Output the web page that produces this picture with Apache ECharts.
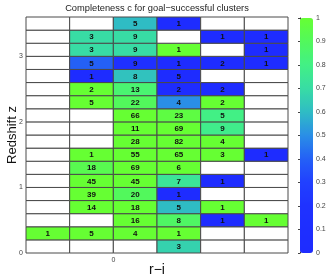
<!DOCTYPE html>
<html><head><meta charset="utf-8">
<script src="https://cdn.jsdelivr.net/npm/echarts@6/dist/echarts.min.js"></script>
<style>html,body{margin:0;padding:0;background:#fff}#c{width:327px;height:279px}</style>
</head><body><div id="c"></div>
<script>
// bin lower edges
const riEdges = [-0.4, -0.2, 0.0, 0.2, 0.4, 0.6];
const zEdges = [0.0,0.2,0.4,0.6,0.8,1.0,1.2,1.4,1.6,1.8,2.0,2.2,2.4,2.6,2.8,3.0,3.2,3.4];
const binW = 0.2, binH = 0.2;
// counts per z bin (bottom to top), one entry per r-i bin
const counts = [
  [null,null,null,3,null,null],
  [1,5,4,1,null,null],
  [null,null,16,8,1,1],
  [null,14,18,5,1,null],
  [null,39,20,1,null,null],
  [null,45,45,7,1,null],
  [null,18,69,6,null,null],
  [null,1,55,65,3,1],
  [null,null,28,82,4,null],
  [null,null,11,69,9,null],
  [null,null,66,23,5,null],
  [null,5,22,4,2,null],
  [null,2,13,2,2,null],
  [null,1,8,5,null,null],
  [null,5,9,1,2,1],
  [null,3,9,1,null,1],
  [null,3,9,null,1,1],
  [null,null,5,1,null,null]
];
// completeness per cell (estimated from colour)
const completeness = [
  [null,null,null,0.67,null,null],
  [1,1,1,1,null,null],
  [null,null,1,0.88,0,1],
  [null,1,1,0.6,1,null],
  [null,1,0.9,0,null,null],
  [null,1,1,0.74,0,null],
  [null,0.93,1,1,null,null],
  [null,1,1,1,1,0],
  [null,null,1,1,1,null],
  [null,null,1,1,0.78,null],
  [null,null,1,0.96,0.8,null],
  [null,1,0.9,0.5,1,null],
  [null,1,0.85,0,0,null],
  [null,0,0.62,0,null,null],
  [null,0.4,0.15,0,0,0],
  [null,0.7,0.7,1,null,0],
  [null,0.7,0.7,null,0,0],
  [null,null,0.6,0,null,null]
];
const colorTicks = [0,0.1,0.2,0.3,0.4,0.5,0.6,0.7,0.8,0.9,1];
const palette = ['#1e2cff','#1e2eff','#1f32ff','#2140ff','#2460f6','#2a8ee6','#2fbcc4','#38dca4','#42f085','#52f85c','#66ff33'];

const data = [];
zEdges.forEach((z, i) => {
  riEdges.forEach((x, j) => {
    const c = completeness[i][j];
    const n = counts[i][j];
    data.push([x, z, n == null ? '-' : n, c == null ? '-' : c]);
  });
});

const chart = echarts.init(document.getElementById('c'), null, {renderer: 'canvas'});
const font = 'Liberation Sans, Arial, sans-serif';
chart.setOption({
  animation: false,
  title: {
    text: 'Completeness c for goal\u2212successful clusters',
    left: 157, top: 4, padding: 0, textAlign: 'center',
    textStyle: {fontSize: 9.3, fontWeight: 'normal', color: '#222', fontFamily: font}
  },
  grid: [
    {left: 26, right: 39, top: 17, bottom: 26, outerBoundsMode: 'none', containLabel: false},
    {left: 300, width: 13, top: 18, bottom: 26, outerBoundsMode: 'none', containLabel: false}
  ],
  xAxis: [{
    type: 'value', gridIndex: 0, min: -0.4, max: 0.8, interval: 0.4,
    name: 'r\u2212i', nameLocation: 'middle', nameGap: 10, nameMoveOverlap: false,
    nameTextStyle: {fontSize: 14, color: '#111', fontFamily: font},
    axisLine: {show: false}, axisTick: {show: false}, splitLine: {show: false},
    axisLabel: {fontSize: 7, color: '#444', margin: 4, fontFamily: font,
      formatter: v => Math.abs(v) < 1e-9 ? '0' : ''}
  }, {
    type: 'value', gridIndex: 1, show: false, min: 0, max: 1
  }],
  yAxis: [{
    type: 'value', gridIndex: 0, min: 0, max: 3.6, interval: 1,
    name: 'Redshift z', nameLocation: 'middle', nameGap: 7, nameMoveOverlap: false,
    nameTextStyle: {fontSize: 13, color: '#111', fontFamily: font},
    axisLine: {show: false}, axisTick: {show: false}, splitLine: {show: false},
    axisLabel: {fontSize: 7, color: '#444', margin: 3, fontFamily: font,
      formatter: v => Math.abs(v - Math.round(v)) < 1e-9 ? String(Math.round(v)) : ''}
  }, {
    type: 'value', gridIndex: 1, position: 'right', min: 0, max: 1, interval: 0.1,
    axisLine: {show: true, lineStyle: {color: '#222', width: 1}},
    axisTick: {show: true, inside: true, length: 2, lineStyle: {color: '#444'}},
    splitLine: {show: false},
    axisLabel: {fontSize: 7, color: '#444', margin: 3, fontFamily: font,
      formatter: v => { const r = Math.round(v*10)/10; return r === 0 ? '0' : r === 1 ? '1' : String(r); }}
  }],
  visualMap: {
    type: 'continuous', min: 0, max: 1, dimension: 3, seriesIndex: 0,
    calculable: false, left: 300, top: 18, itemWidth: 13, itemHeight: 235,
    padding: 0, text: null, showLabel: false, hoverLink: false,
    inRange: {color: palette}
  },
  series: [{
    type: 'custom', xAxisIndex: 0, yAxisIndex: 0,
    encode: {x: 0, y: 1},
    data: data,
    renderItem: function (params, api) {
      const x = api.value(0), z = api.value(1);
      const n = api.value(2), c = api.value(3);
      const p0 = api.coord([x, z + binH]);
      const p1 = api.coord([x + binW, z]);
      const empty = c === '-' || isNaN(c);
      const fill = empty ? '#ffffff' : api.visual('color');
      const children = [{
        type: 'rect',
        shape: {x: p0[0], y: p0[1], width: p1[0] - p0[0], height: p1[1] - p0[1]},
        style: {fill: fill, stroke: '#4a4a4a', lineWidth: 1}
      }];
      if (!empty && n !== '-' && !isNaN(n)) {
        children.push({
          type: 'text',
          style: {x: (p0[0] + p1[0]) / 2, y: (p0[1] + p1[1]) / 2 + 0.5, text: String(n),
            align: 'center', verticalAlign: 'middle', fill: '#111',
            font: 'bold 8px ' + font}
        });
      }
      return {type: 'group', children: children};
    }
  }]
});
</script></body></html>
